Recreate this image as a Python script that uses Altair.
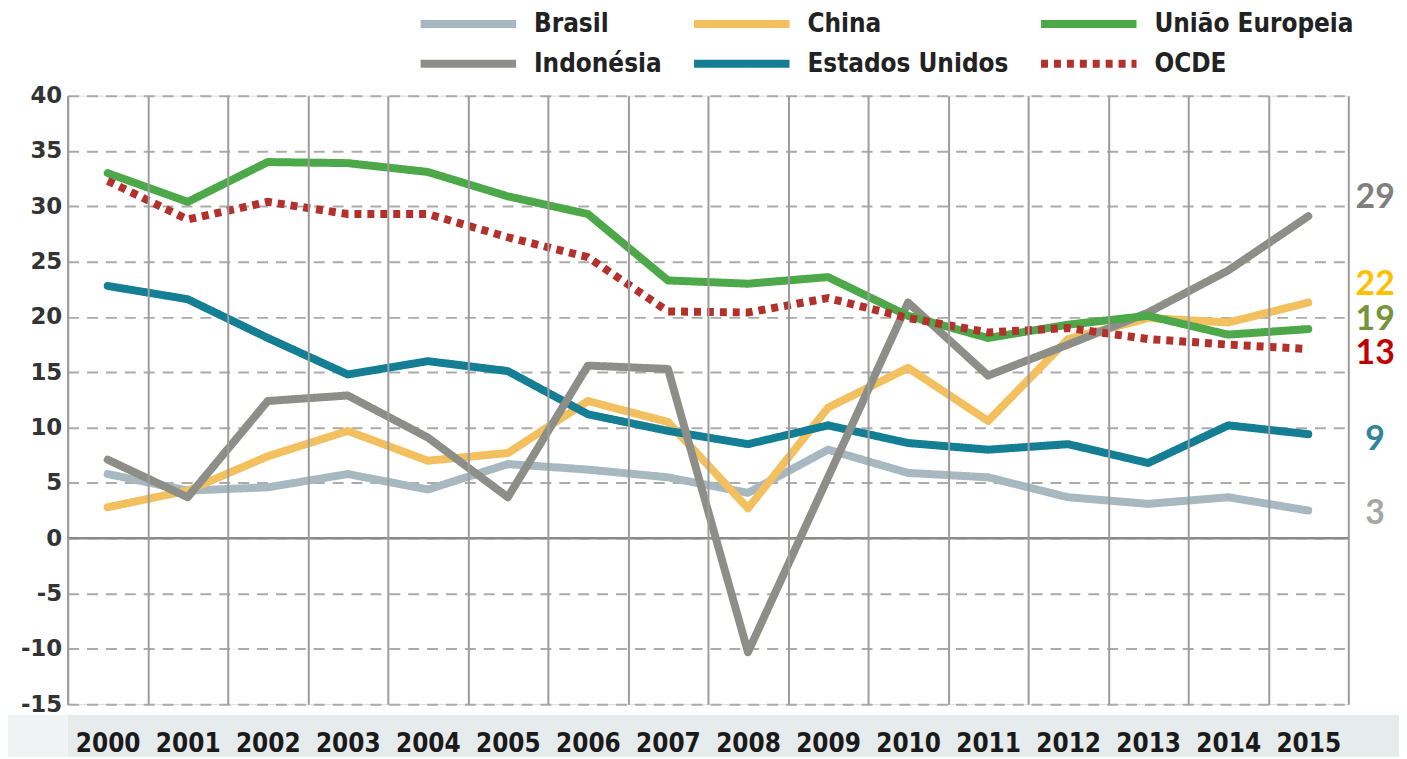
import altair as alt
import pandas as pd

years = list(range(2000, 2016))
series_legend = ["Brasil", "China", "União Europeia", "Indonésia", "Estados Unidos", "OCDE"]
series_colors = ["#A8B8C0", "#F2C05E", "#4CA848", "#8E8E89", "#137E94", "#B3302D"]

brasil = [5.8, 4.3, 4.6, 5.8, 4.4, 6.7, 6.2, 5.5, 4.1, 8.0, 5.9, 5.5, 3.7, 3.1, 3.7, 2.5]
china = [2.8, 4.3, 7.4, 9.7, 7.0, 7.7, 12.4, 10.5, 2.7, 11.8, 15.4, 10.6, 18.0, 19.9, 19.5, 21.3]
uniao_europeia = [33.0, 30.4, 34.0, 33.9, 33.1, 30.9, 29.3, 23.3, 23.0, 23.6, 20.1, 18.1, 19.3, 20.1, 18.4, 18.9]
indonesia = [7.1, 3.7, 12.4, 12.9, 9.1, 3.7, 15.6, 15.3, -10.3, 5.5, 21.3, 14.7, 17.5, 20.4, 24.2, 29.1]
estados_unidos = [22.8, 21.6, 18.1, 14.8, 16.0, 15.1, 11.2, 9.7, 8.5, 10.2, 8.6, 8.0, 8.5, 6.8, 10.2, 9.4]
ocde = [32.3, 28.8, 30.4, 29.3, 29.3, 27.2, 25.4, 20.5, 20.4, 21.7, 19.9, 18.6, 19.0, 18.0, 17.5, 17.1]

values = {
    "Brasil": brasil,
    "China": china,
    "União Europeia": uniao_europeia,
    "Indonésia": indonesia,
    "Estados Unidos": estados_unidos,
    "OCDE": ocde,
}
draw_order = ["Brasil", "China", "Estados Unidos", "Indonésia", "União Europeia", "OCDE"]

end_labels = ["29", "22", "19", "13", "9", "3"]
end_label_colors = ["#7F7F7F", "#FFC000", "#77933C", "#C00000", "#31849B", "#A6A6A6"]
end_label_y = [30.7, 22.9, 19.7, 16.6, 8.9, 2.2]

y_ticks = list(range(-15, 41, 5))

rows = []
for name in draw_order:
    for yr, v in zip(years, values[name]):
        rows.append({"ano": str(yr), "serie": name, "valor": v})
df = pd.DataFrame(rows)

lab_df = pd.DataFrame({"txt": end_labels, "cor": end_label_colors, "pos": end_label_y})

W, H = 1288, 612
COND = "DejaVu Sans Condensed, Liberation Sans"

legend = alt.Legend(
    title=None, orient="none", legendX=387, legendY=-88, columns=3, direction="horizontal",
    symbolType="M-4,0H4", symbolSize=576, symbolStrokeWidth=8, padding=0,
    labelFont=COND, labelFontSize=26, labelFontWeight="bold",
    labelColor="#222222", labelOffset=50, columnPadding=16, rowPadding=8,
    labelLimit=400,
)
color = alt.Color("serie:N", scale=alt.Scale(domain=series_legend, range=series_colors), legend=legend)
dash = alt.StrokeDash(
    "serie:N",
    scale=alt.Scale(domain=series_legend, range=[[1, 0], [1, 0], [1, 0], [1, 0], [1, 0], [7, 6]]),
    legend=legend,
)

x_enc = alt.X(
    "ano:O",
    scale=alt.Scale(type="band", paddingInner=0, paddingOuter=0),
    axis=alt.Axis(
        title=None, tickBand="extent", grid=True, gridColor="#9c9c9c", gridWidth=2,
        domain=False, ticks=False, labelAngle=0, zindex=1,
        labelFont=COND, labelFontSize=26, labelFontWeight="bold",
        labelColor="#1a1a1a", labelPadding=27,
    ),
)
y_enc = alt.Y(
    "valor:Q",
    scale=alt.Scale(domain=[-15, 40], nice=False, zero=False),
    axis=alt.Axis(
        title=None, values=y_ticks, grid=True, gridDash=[11, 8], gridColor="#ababab",
        gridWidth=2, domainColor="#9c9c9c", domainWidth=2, ticks=False,
        labelExpr="'' + datum.value",
        labelFont="DejaVu Sans", labelFontWeight="bold", labelFontSize=23,
        labelColor="#333333", labelPadding=6,
    ),
)

strip = alt.Chart(pd.DataFrame({"a": [0]})).mark_rect(color="#E6ECEC").encode(
    x=alt.value(0), x2=alt.value(W + 51), y=alt.value(H + 11), y2=alt.value(H + 53)
)
strip_left = alt.Chart(pd.DataFrame({"a": [0]})).mark_rect(color="#EFF3F3").encode(
    x=alt.value(-60), x2=alt.value(0), y=alt.value(H + 11), y2=alt.value(H + 53)
)

zero = alt.Chart(pd.DataFrame({"v": [0]})).mark_rule(color="#8a8a8a", strokeWidth=2.5).encode(y="v:Q")

base = alt.Chart(df).encode(x=x_enc, y=y_enc, color=color, strokeDash=dash)
solid = base.transform_filter(alt.datum.serie != "OCDE").mark_line(
    strokeWidth=8, strokeCap="round", strokeJoin="round"
)
dotted = base.transform_filter(alt.datum.serie == "OCDE").mark_line(
    strokeWidth=8, strokeCap="butt", strokeJoin="miter"
)

labels = alt.Chart(lab_df).mark_text(
    font="Lato", fontWeight="bold", fontSize=34, align="center", baseline="middle"
).encode(
    x=alt.value(W + 27), y=alt.Y("pos:Q"), text="txt:N", fill=alt.Fill("cor:N", scale=None)
)

chart = alt.layer(strip, strip_left, zero, solid, dotted, labels).properties(
    width=W, height=H,
    autosize=alt.AutoSizeParams(type="none"),
    padding={"left": 60, "top": 86, "right": 51, "bottom": 53},
).configure_view(stroke=None).configure(background="white")

chart.save("out.html", embed_options={"renderer": "svg", "actions": False})
